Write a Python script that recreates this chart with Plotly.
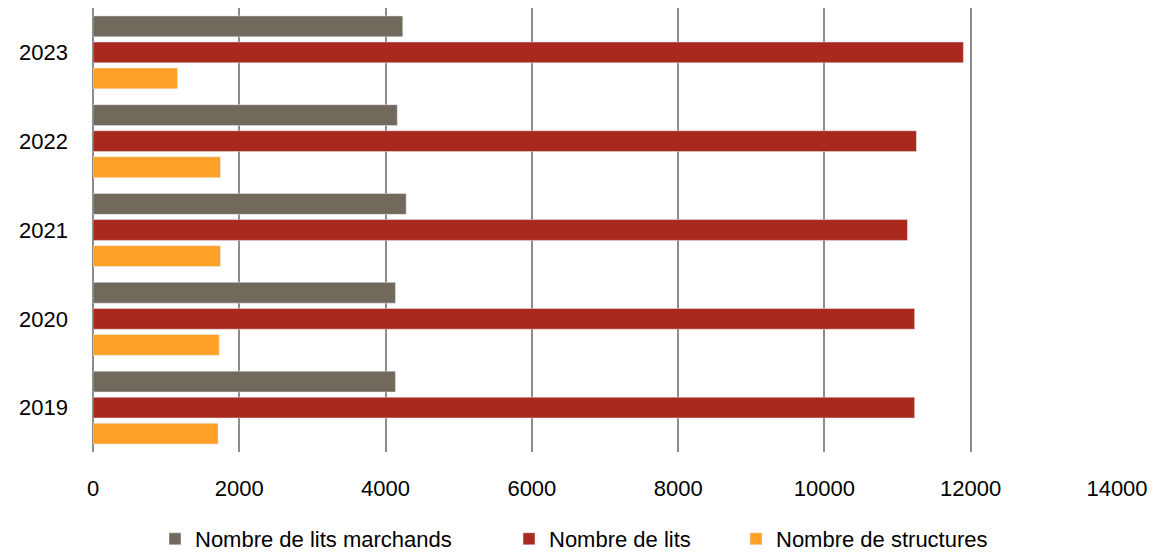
import plotly.graph_objects as go

years = ["2019", "2020", "2021", "2022", "2023"]
lits_marchands = [4135, 4135, 4282, 4160, 4235]
lits = [11234, 11234, 11135, 11258, 11900]
structures = [1711, 1725, 1743, 1743, 1155]

font = "Liberation Sans, Arial"

# the html page adds an 8px body margin, so the figure is 8px smaller
W, H = 1147, 546

fig = go.Figure()
# added bottom-up so that "marchands" sits at the top of each group
fig.add_trace(go.Bar(y=years, x=structures, orientation="h",
                     name="Nombre de structures", marker_color="#FFA126",
                     legend="legend3"))
fig.add_trace(go.Bar(y=years, x=lits, orientation="h",
                     name="Nombre de lits", marker_color="#A9291E",
                     legend="legend2"))
fig.add_trace(go.Bar(y=years, x=lits_marchands, orientation="h",
                     name="Nombre de lits marchands", marker_color="#71695B",
                     legend="legend"))

leg = dict(orientation="h", xref="container", yref="container",
           xanchor="left", y=1 - 531 / H, yanchor="middle", font=dict(size=22),
           bgcolor="rgba(0,0,0,0)")

fig.update_layout(
    width=W, height=H,
    margin=dict(l=85, r=38, t=0, b=102),
    plot_bgcolor="white", paper_bgcolor="white",
    barmode="group", bargap=0.12, bargroupgap=0.2,
    font=dict(family=font, size=22, color="#000000"),
    showlegend=True,
    legend=dict(leg, x=147 / W),
    legend2=dict(leg, x=501 / W),
    legend3=dict(leg, x=728 / W),
    xaxis=dict(range=[0, 14000], dtick=2000, tickformat="d", showgrid=True,
               gridcolor="#8C8C8C", gridwidth=2, zeroline=True,
               zerolinecolor="#8C8C8C", zerolinewidth=2,
               showline=False, ticklabelstandoff=21, automargin=False),
    yaxis=dict(type="category", showgrid=False, showline=False,
               ticklabelstandoff=24, automargin=False),
)

fig.write_html("out.html")
